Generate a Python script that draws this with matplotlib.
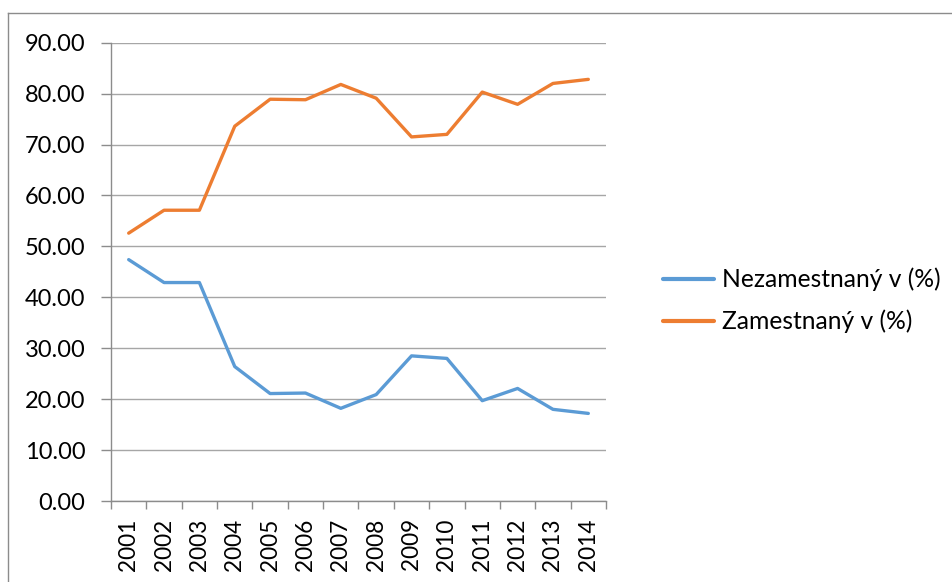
import matplotlib
matplotlib.use("Agg")
import matplotlib.pyplot as plt
from matplotlib.lines import Line2D
from matplotlib.ticker import FixedLocator, FuncFormatter

years = ["2001", "2002", "2003", "2004", "2005", "2006", "2007",
         "2008", "2009", "2010", "2011", "2012", "2013", "2014"]
nezamestnany = [47.4, 42.9, 42.9, 26.4, 21.1, 21.2, 18.2,
                20.9, 28.5, 28.0, 19.7, 22.1, 18.0, 17.2]
zamestnany = [52.6, 57.1, 57.1, 73.6, 78.9, 78.8, 81.8,
              79.1, 71.5, 72.0, 80.3, 77.9, 82.0, 82.8]
labels = ["Nezamestnaný v (%)", "Zamestnaný v (%)"]

plt.rcParams['font.family'] = ['Lato', 'DejaVu Sans']
FS_Y = 17.0
FS_X = 16.3
FS_L = 17.7

W, H = 953, 582
fig = plt.figure(figsize=(W / 100, H / 100), dpi=100)

# outer chart border (top and left)
border_col = '#8c8c8c'
fig.add_artist(Line2D([8 / W, 1.0], [1 - 13 / H, 1 - 13 / H], transform=fig.transFigure,
                      color=border_col, lw=1.0))
fig.add_artist(Line2D([8 / W, 8 / W], [0.0, 1 - 13 / H], transform=fig.transFigure,
                      color=border_col, lw=1.0))

left, right, top, bottom = 111 / W, 606 / W, 1 - 42.7 / H, 1 - 501 / H
ax = fig.add_axes([left, bottom, right - left, top - bottom])

x = list(range(len(years)))
ax.plot(x, nezamestnany, color='#5B9BD5', lw=2.4, label=labels[0], solid_capstyle='round')
ax.plot(x, zamestnany, color='#ED7D31', lw=2.4, label=labels[1], solid_capstyle='round')

ax.set_xlim(-0.5, len(years) - 0.5)
ax.set_ylim(0, 90)
ax.set_yticks([0, 10, 20, 30, 40, 50, 60, 70, 80, 90])
ax.yaxis.set_major_formatter(FuncFormatter(lambda v, p: f"{v:.2f}"))
ax.set_xticks(x)
ax.set_xticklabels(years, rotation=90)
ax.xaxis.set_minor_locator(FixedLocator([i - 0.5 for i in range(len(years) + 1)]))

grid_col = '#a6a6a6'
ax.grid(axis='y', color=grid_col, lw=1.0)
ax.set_axisbelow(True)
for s in ['top', 'right']:
    ax.spines[s].set_visible(False)
for s in ['left', 'bottom']:
    ax.spines[s].set_color('#8c8c8c')
    ax.spines[s].set_linewidth(1.0)

ax.tick_params(axis='y', which='major', length=7, width=1.0, color='#8c8c8c',
               labelsize=FS_Y, pad=11.5)
ax.tick_params(axis='x', which='major', length=0, labelsize=FS_X, pad=12.5)
ax.tick_params(axis='x', which='minor', length=6, width=1.0, color='#8c8c8c')

fs_px = FS_L * 100 / 72
leg = ax.legend(loc='center left', bbox_to_anchor=(663 / W, 1 - 300.5 / H),
                bbox_transform=fig.transFigure, frameon=False, fontsize=FS_L,
                borderpad=0, borderaxespad=0, handlelength=51 / fs_px,
                handletextpad=8 / fs_px, labelspacing=0.75)
for l in leg.get_lines():
    l.set_linewidth(3.0)

fig.savefig("out.png", dpi=100)
